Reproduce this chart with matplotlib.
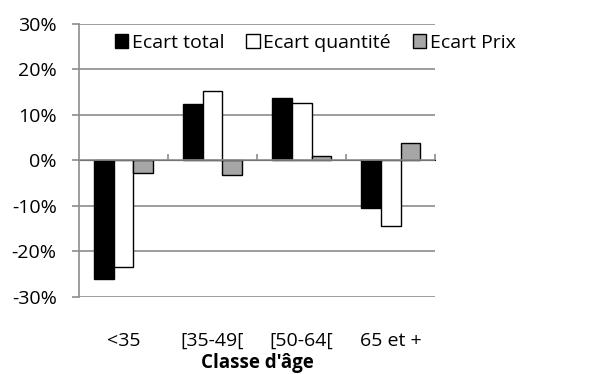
import matplotlib
matplotlib.use("Agg")
import matplotlib.pyplot as plt
import numpy as np

categories = ["<35", "[35-49[", "[50-64[", "65 et +"]
ecart_total = [-26.0, 12.3, 13.7, -10.4]
ecart_quantite = [-23.5, 15.3, 12.7, -14.4]
ecart_prix = [-2.8, -3.1, 1.0, 3.9]
series_names = ["Ecart total", "Ecart quantité", "Ecart Prix"]
y_ticks = [-30, -20, -10, 0, 10, 20, 30]

plt.rcParams["font.family"] = ["Open Sans", "DejaVu Sans"]
grid_col = "#8c8c8c"
fs = 14

fig = plt.figure(figsize=(6.07, 3.74), dpi=100)
ax = fig.add_axes([0.130, 0.206, 0.587, 0.730])

x = np.arange(len(categories))
w = 1 / 4.5
colors = ["black", "white", "#a6a6a6"]
for i, (vals, name, c) in enumerate(zip([ecart_total, ecart_quantite, ecart_prix], series_names, colors)):
    ax.bar(x + (i - 1) * w, vals, width=w, color=c, edgecolor="black",
           linewidth=1.0, label=name, zorder=3)

ax.set_xlim(-0.5, 3.5)
ax.set_ylim(-30, 30)
ax.set_yticks(y_ticks)
ax.set_yticklabels([f"{v}%" for v in y_ticks], fontsize=fs)
for v in y_ticks:
    if v != 0:
        ax.axhline(v, color=grid_col, lw=1.2, zorder=1)
ax.axhline(0, color=grid_col, lw=1.2, zorder=4)

for s in ["top", "right", "bottom"]:
    ax.spines[s].set_visible(False)
ax.spines["left"].set_color(grid_col)
ax.spines["left"].set_linewidth(1.2)
ax.tick_params(axis="y", length=5, width=1.2, color=grid_col, pad=11)

ax.set_xticks(x)
ax.set_xticklabels(categories, fontsize=fs)
ax.tick_params(axis="x", length=0, pad=25)

sec = ax.secondary_xaxis(0.5)
sec.set_xticks([0.5, 1.5, 2.5, 3.5])
sec.set_xticklabels([])
sec.spines["bottom"].set_visible(False)
sec.tick_params(axis="x", length=4, width=1.2, color=grid_col, direction="out")

ax.set_xlabel("Classe d'âge", fontsize=fs - 0.5, fontweight="bold")
ax.xaxis.set_label_coords(0.5, -0.205)

fig.legend(loc="center left", bbox_to_anchor=(0.176, 0.885), ncol=3, frameon=False,
           fontsize=fs, handlelength=0.7, handleheight=0.7, handletextpad=0.2,
           columnspacing=1.1, borderaxespad=0)

fig.savefig("out.png", dpi=100, facecolor="white")
